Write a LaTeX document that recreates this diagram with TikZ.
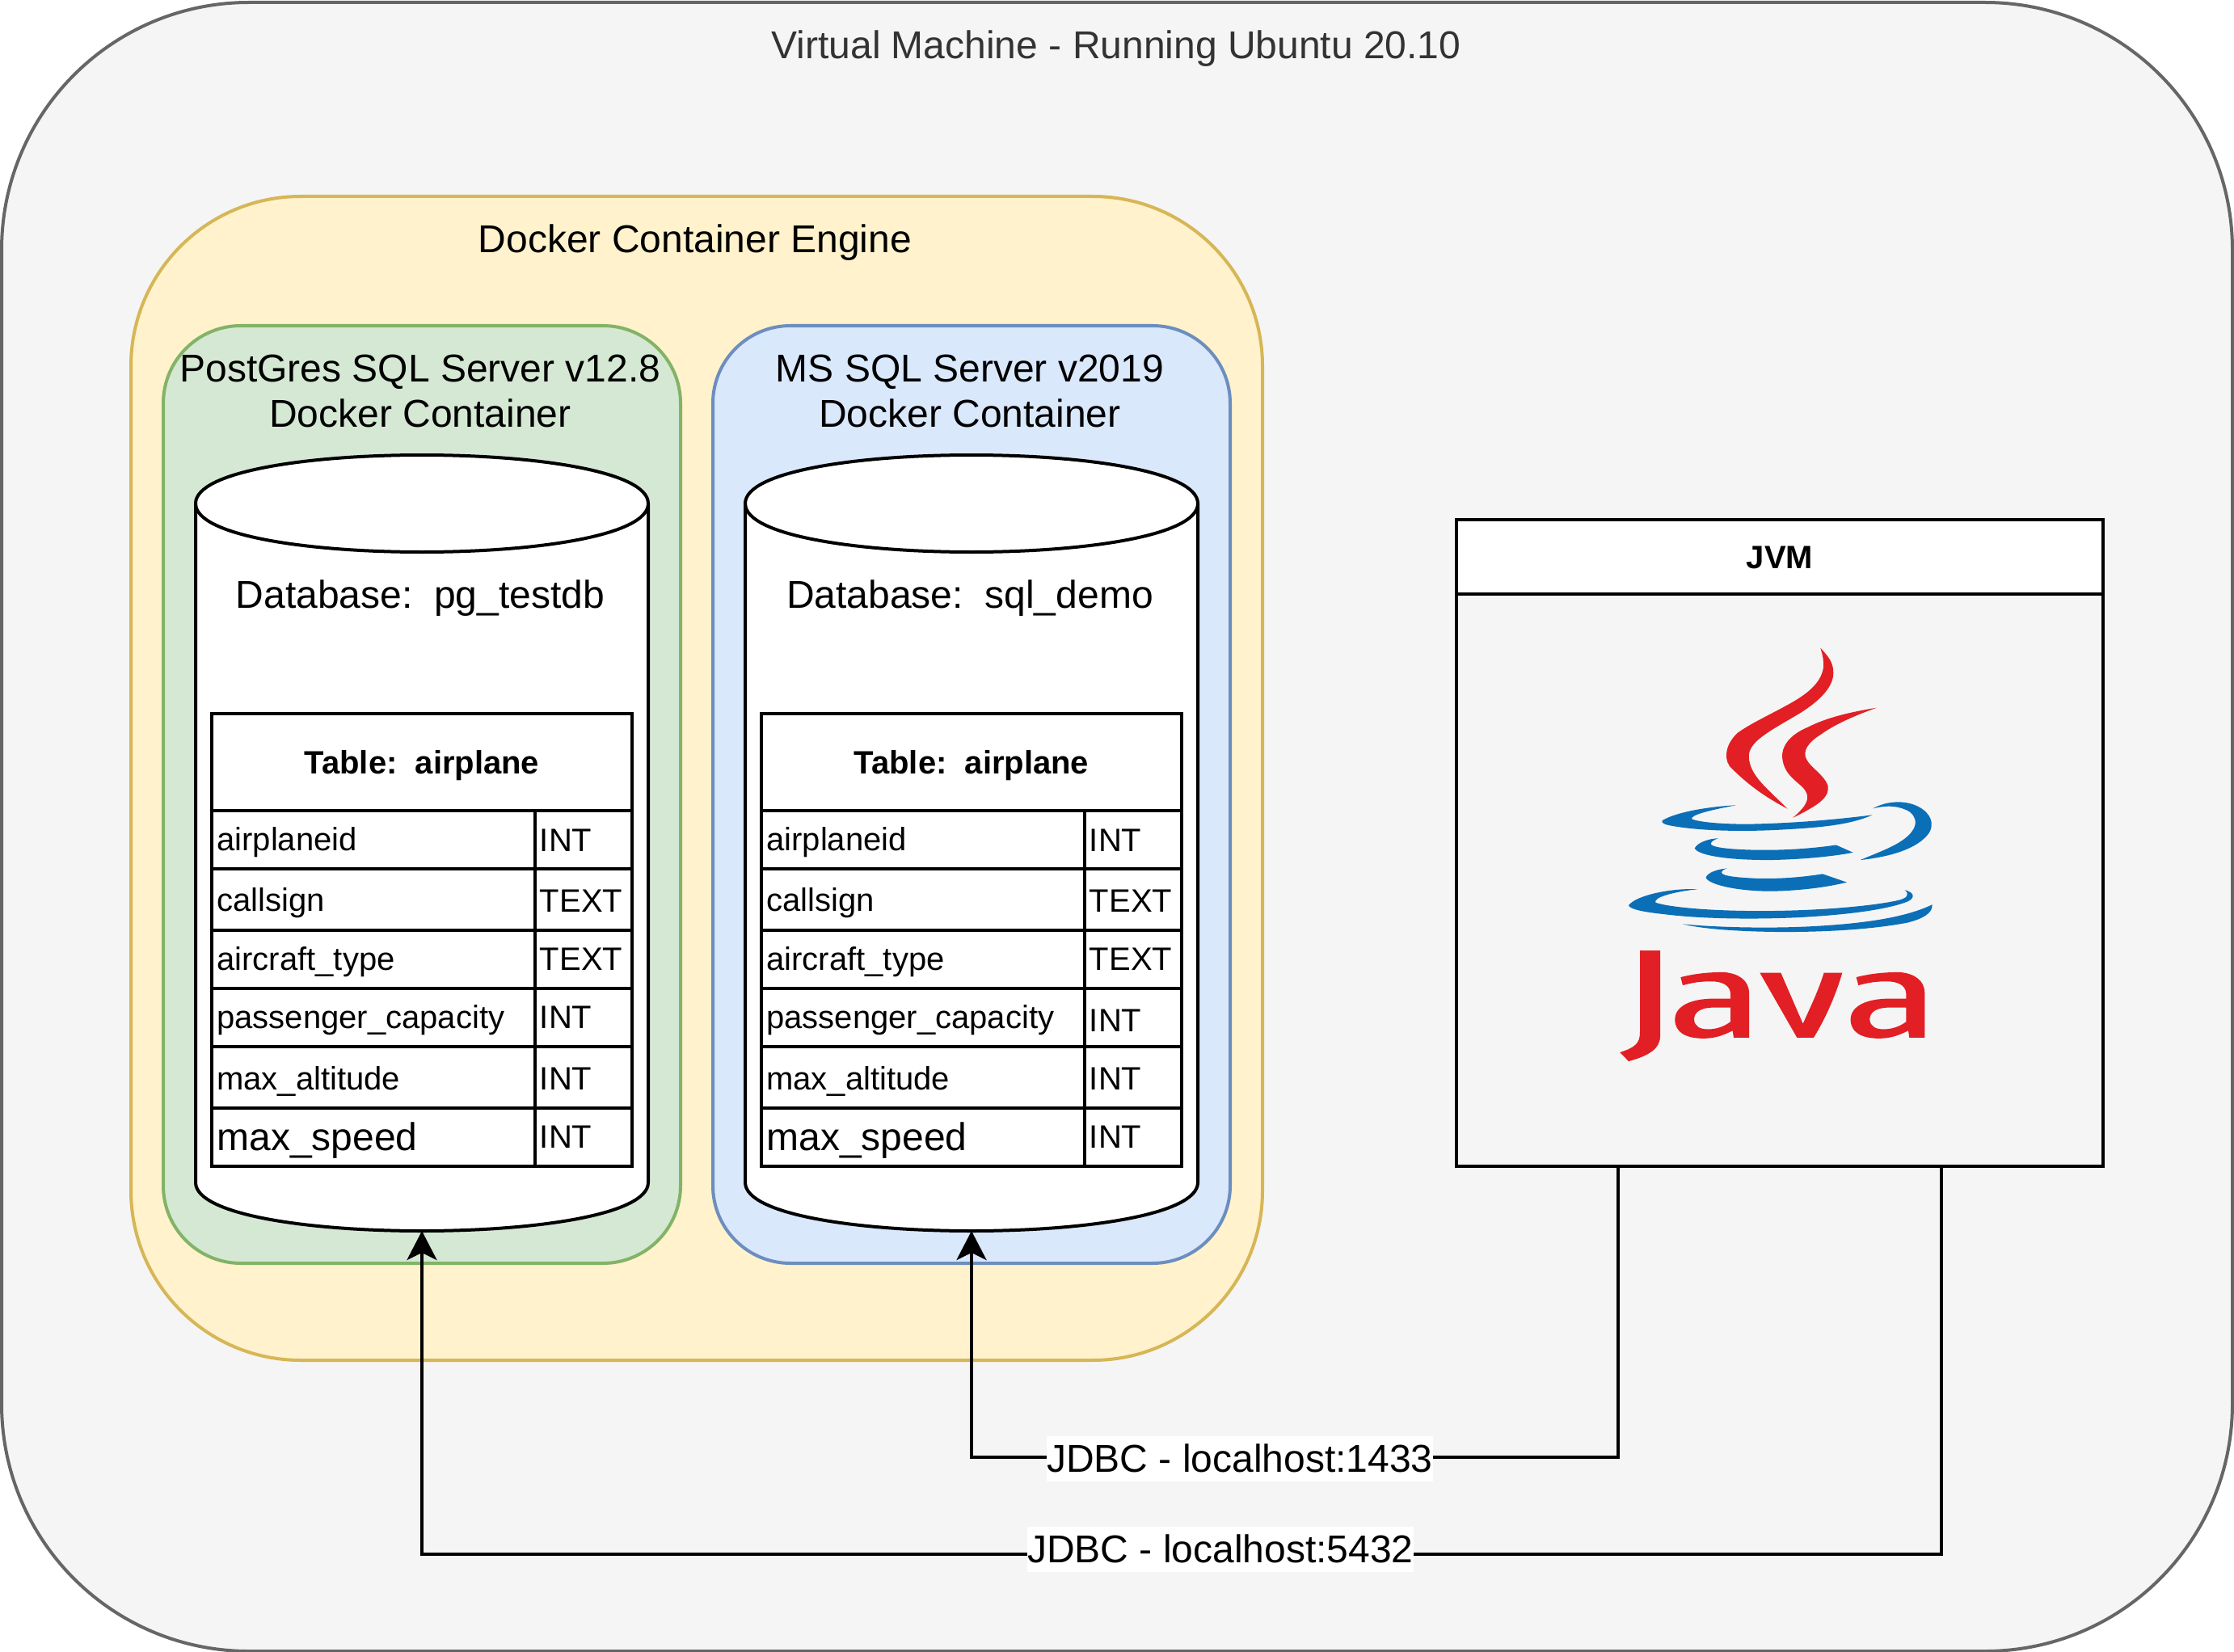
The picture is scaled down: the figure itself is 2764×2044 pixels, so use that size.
\documentclass[tikz,border=0pt]{standalone}
\usepackage{fontspec}
\setmainfont{Liberation Sans}
\usetikzlibrary{arrows.meta,calc}
\definecolor{vmfill}{HTML}{F5F5F5}\definecolor{vmline}{HTML}{666666}\definecolor{vmtext}{HTML}{333333}
\definecolor{dkfill}{HTML}{FFF2CC}\definecolor{dkline}{HTML}{D6B656}
\definecolor{pgfill}{HTML}{D5E8D4}\definecolor{pgline}{HTML}{82B366}
\definecolor{msfill}{HTML}{DAE8FC}\definecolor{msline}{HTML}{6C8EBF}
\definecolor{javared}{HTML}{E21F24}\definecolor{javablue}{HTML}{0B6FB7}
\newcommand\bigf{\fontsize{24}{28}\selectfont}
\newcommand\cellf{\fontsize{20}{24}\selectfont}
\tikzset{
  shapebox/.style={rectangle,inner sep=0pt,outer sep=0pt,anchor=north west},
  cell/.style={shapebox,draw=black,line width=2pt,fill=white},
  bigtext/.style={font=\bigf,inner sep=0pt,anchor=base,align=center},
  celltext/.style={font=\cellf,inner sep=0pt,anchor=base west},
  jdbc/.style={font=\bigf,anchor=base,fill=white,inner sep=0pt,text height=22pt,text depth=6pt},
  link/.style={line width=2pt,-{Stealth[length=18pt,width=18.5pt,inset=4.5pt]}}
}
% #1 style #2 name #3 x0 #4 y0 #5 x1 #6 y1
\newcommand\rectnode[6]{\node[#1,minimum width={((#5)-(#3))*0.5pt},minimum height={((#6)-(#4))*0.5pt}] (#2) at (#3,#4) {};}
\newcommand\cylinder[2]{%
  \rectnode{shapebox}{#1}{#2}{562}{#2+560}{1522}
  \draw[line width=2pt,fill=white,line join=round] (#2,622) .. controls (#2,542) and (#2+560,542) .. (#2+560,622) -- (#2+560,1462) .. controls (#2+560,1542) and (#2,1542) .. (#2,1462) -- cycle;
  \draw[line width=2pt] (#2,622) .. controls (#2,702) and (#2+560,702) .. (#2+560,622);
}
% #1 prefix #2 x offset #3 baseline of the INT in the passenger_capacity row
\newcommand\dbtable[3]{%
  \rectnode{cell}{#1h}{#2+262}{882}{#2+782}{1002}
  \node[font=\bfseries\cellf,inner sep=0pt,anchor=base] (#1ht) at (#2+522,956) {Table:\ \ airplane};
  \foreach \ya/\yb/\nm/\ty/\bl/\tl in {
    1002/1074/airplaneid/INT/1051/1052,
    1074/1150/callsign/TEXT/1126/1127.5,
    1150/1222/aircraft\_type/TEXT/1199/1199.5,
    1222/1294/passenger\_capacity/INT/1271/#3,
    1294/1370/max\_altitude/INT/1347.5/1347.5,
    1370/1442/\bigf max\_speed/INT/1422.5/1419.5}{
    \rectnode{cell}{#1n\ya}{#2+262}{\ya}{#2+662}{\yb}
    \rectnode{cell}{#1t\ya}{#2+662}{\ya}{#2+782}{\yb}
    \node[celltext] (#1nt\ya) at (#2+268,\bl) {\nm};
    \node[celltext] (#1tt\ya) at (#2+667.5,\tl) {\ty};
  }
}
\newcommand\javaa{(358,1243) .. controls (420,1228) and (470,1225) .. (520,1225) .. controls (575,1230) and (612,1255) .. (612,1300) -- (612,1460) -- (555,1460) -- (551,1435) .. controls (510,1455) and (480,1463) .. (440,1463) .. controls (375,1462) and (337,1440) .. (337,1395) .. controls (337,1345) and (400,1320) .. (480,1320) -- (543,1320) -- (543,1300) .. controls (540,1270) and (510,1258) .. (470,1258) .. controls (430,1258) and (400,1263) .. (366,1272) -- cycle
 (543,1352) -- (480,1352) .. controls (430,1352) and (408,1370) .. (408,1395) .. controls (410,1420) and (430,1430) .. (460,1430) .. controls (490,1430) and (520,1420) .. (543,1403) -- cycle}
\begin{document}
\begin{tikzpicture}[x=0.5pt,y=-0.5pt]
\useasboundingbox (0,-1) rectangle (2764,2043);
% containers
\rectnode{shapebox,draw=vmline,fill=vmfill,line width=2pt,rounded corners=153pt}{vm}{2}{2}{2762}{2042}
\rectnode{shapebox,draw=dkline,fill=dkfill,line width=2pt,rounded corners=105pt}{docker}{162}{242}{1562}{1682}
\rectnode{shapebox,draw=pgline,fill=pgfill,line width=2pt,rounded corners=48pt}{pg}{202}{402}{842}{1562}
\rectnode{shapebox,draw=msline,fill=msfill,line width=2pt,rounded corners=48pt}{ms}{882}{402}{1522}{1562}
\node[bigtext,text=vmtext] (vmt) at (1381,72) {Virtual Machine - Running Ubuntu 20.10};
\node[bigtext] (dkt) at (860,312) {Docker Container Engine};
\node[bigtext] (pgt1) at (520,471) {PostGres SQL Server v12.8};
\node[bigtext] (pgt2) at (520,527) {Docker Container};
\node[bigtext] (mst1) at (1200,471) {MS SQL Server v2019};
\node[bigtext] (mst2) at (1200,527) {Docker Container};
% databases
\cylinder{cylA}{242}
\cylinder{cylB}{922}
\node[bigtext] (dbA) at (520,751) {Database:\ \ pg\_testdb};
\node[bigtext] (dbB) at (1200,751) {Database:\ \ sql\_demo};
\dbtable{A}{0}{1271.5}
\dbtable{B}{680}{1275.5}
% JVM
\rectnode{shapebox,draw=black,line width=2pt}{jvm}{1802}{642}{2602}{1442}
\rectnode{cell}{jvmh}{1802}{642}{2602}{734}
\node[font=\bfseries\cellf,inner sep=0pt,anchor=base] (jvmt) at (2202,702) {JVM};
% Java logo
\begin{scope}[shift={(1960,780)},xscale=0.3333,yscale=0.3444]
\fill[javared] (877,60) .. controls (905,90) and (925,110) .. (925,150) .. controls (925,200) and (875,250) .. (800,295) .. controls (740,330) and (680,360) .. (640,395) .. controls (615,420) and (605,440) .. (615,475) .. controls (630,530) and (690,575) .. (755,638) .. controls (680,600) and (610,555) .. (540,485) .. controls (515,450) and (530,400) .. (570,365) .. controls (620,330) and (690,300) .. (760,262) .. controls (830,225) and (880,185) .. (888,130) .. controls (890,105) and (885,85) .. (877,60) -- cycle;
\fill[javared] (1085,275) .. controls (1000,305) and (930,335) .. (880,370) .. controls (830,400) and (810,430) .. (825,460) .. controls (840,490) and (890,515) .. (905,555) .. controls (910,595) and (880,620) .. (775,670) .. controls (810,640) and (835,615) .. (827,585) .. controls (815,545) and (740,530) .. (735,450) .. controls (735,400) and (780,365) .. (830,345) .. controls (900,310) and (990,290) .. (1085,275) -- cycle;
\fill[javablue] (565,625) .. controls (460,630) and (340,650) .. (290,680) .. controls (285,690) and (300,695) .. (330,700) .. controls (450,720) and (620,720) .. (750,712) .. controls (880,705) and (990,695) .. (1070,660) .. controls (950,675) and (800,688) .. (650,692) .. controls (560,695) and (440,690) .. (400,675) .. controls (390,660) and (480,640) .. (565,625) -- cycle;
\fill[javablue] (1072,637) .. controls (1120,610) and (1190,605) .. (1240,630) .. controls (1290,655) and (1300,695) .. (1280,725) .. controls (1240,780) and (1140,810) .. (1025,822) .. controls (1090,795) and (1150,775) .. (1190,745) .. controls (1230,715) and (1245,680) .. (1210,650) .. controls (1170,625) and (1120,625) .. (1072,637) -- cycle;
\fill[javablue] (498,744) .. controls (460,745) and (420,760) .. (410,780) .. controls (420,800) and (500,822) .. (690,822) .. controls (800,820) and (920,810) .. (998,795) -- (935,768) .. controls (850,780) and (750,787) .. (650,786) .. controls (570,785) and (480,780) .. (470,765) .. controls (470,755) and (485,748) .. (498,744) -- cycle;
\fill[javablue] (530,852) .. controls (490,855) and (455,870) .. (452,885) .. controls (460,910) and (570,935) .. (700,934) .. controls (800,932) and (900,920) .. (975,902) -- (885,872) .. controls (800,885) and (720,890) .. (640,888) .. controls (570,885) and (515,880) .. (510,868) .. controls (510,860) and (520,855) .. (530,852) -- cycle;
\fill[javablue] (420,927) .. controls (320,922) and (190,950) .. (165,985) .. controls (170,1000) and (230,1010) .. (300,1017) .. controls (450,1035) and (650,1035) .. (800,1028) .. controls (950,1020) and (1100,1005) .. (1190,975) .. controls (1225,965) and (1235,940) .. (1190,930) .. controls (1210,945) and (1200,960) .. (1160,968) .. controls (1050,990) and (850,1005) .. (650,1005) .. controls (500,1005) and (330,995) .. (265,975) .. controls (255,955) and (340,935) .. (420,927) -- cycle;
\fill[javablue] (365,1052) .. controls (500,1065) and (700,1068) .. (850,1060) .. controls (1000,1052) and (1180,1035) .. (1292,982) .. controls (1295,1015) and (1250,1035) .. (1200,1047) .. controls (1050,1075) and (850,1082) .. (700,1080) .. controls (570,1078) and (440,1070) .. (365,1052) -- cycle;
\fill[javared] (207,1147) -- (282,1147) -- (282,1455) .. controls (282,1500) and (240,1525) .. (165,1545) -- (133,1513) .. controls (190,1495) and (207,1480) .. (207,1440) -- cycle;
\fill[javared,even odd rule] \javaa;
\fill[javared] (652,1227) -- (730,1227) -- (812,1410) .. controls (840,1350) and (870,1290) .. (890,1227) -- (958,1227) .. controls (930,1320) and (890,1400) .. (852,1460) -- (790,1460) -- cycle;
\begin{scope}[shift={(652,0)}]
\fill[javared,even odd rule] \javaa;
\end{scope}
\end{scope}
% connectors
\coordinate (jvmL) at ($(jvm.south west)!.25!(jvm.south east)$);
\coordinate (jvmR) at ($(jvm.south west)!.75!(jvm.south east)$);
\draw[link] (jvmL) |- (1700,1802) -| (cylB.south);
\draw[link] (jvmR) |- (1700,1922) -| (cylA.south);
\node[jdbc] (l1) at (1534,1820) {JDBC - localhost:1433};
\node[jdbc] (l2) at (1510,1932) {JDBC - localhost:5432};
\end{tikzpicture}
\end{document}
